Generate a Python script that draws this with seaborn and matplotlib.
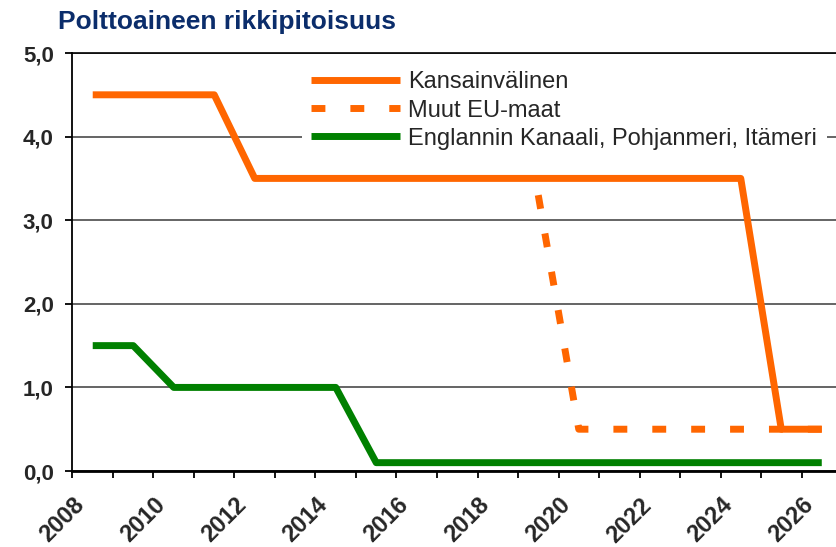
import numpy as np
import pandas as pd
import matplotlib.pyplot as plt
import seaborn as sns
from matplotlib.ticker import MultipleLocator, FuncFormatter
from matplotlib.transforms import ScaledTranslation

# data (one value per year, drawn at mid-year)
years = [2008, 2009, 2010, 2011, 2012, 2013, 2014, 2015, 2016, 2017,
         2018, 2019, 2020, 2021, 2022, 2023, 2024, 2025, 2026]
kansainvalinen = [4.5, 4.5, 4.5, 4.5, 3.5, 3.5, 3.5, 3.5, 3.5, 3.5,
                  3.5, 3.5, 3.5, 3.5, 3.5, 3.5, 3.5, 0.5, 0.5]
muut_eu = [np.nan, np.nan, np.nan, np.nan, np.nan, np.nan, np.nan, np.nan, np.nan, np.nan,
           np.nan, 3.3, 0.5, 0.5, 0.5, 0.5, 0.5, 0.5, 0.5]
kanaali = [1.5, 1.5, 1.0, 1.0, 1.0, 1.0, 1.0, 0.1, 0.1, 0.1,
           0.1, 0.1, 0.1, 0.1, 0.1, 0.1, 0.1, 0.1, 0.1]
xtick_years = [2008, 2010, 2012, 2014, 2016, 2018, 2020, 2022, 2024, 2026]

df = pd.DataFrame({"vuosi": np.array(years) + 0.5,
                   "Kansainvälinen": kansainvalinen,
                   "Muut EU-maat": muut_eu,
                   "Kanaali": kanaali})

sns.set_style("white")
plt.rcParams['font.family'] = ['Liberation Sans', 'DejaVu Sans']

fig = plt.figure(figsize=(8.36, 5.47), dpi=100)
ax = fig.add_axes([0.0867, 0.1389, 0.9205, 0.7642])

sns.lineplot(data=df, x="vuosi", y="Kansainvälinen", color="#FF6600", lw=5,
             solid_capstyle="butt", label="Kansainvälinen", ax=ax)
sns.lineplot(data=df.dropna(subset=["Muut EU-maat"]), x="vuosi", y="Muut EU-maat",
             color="#FF6600", lw=5, linestyle=(0, (2, 3.6)), dash_capstyle="butt",
             label="Muut EU-maat", ax=ax)
sns.lineplot(data=df, x="vuosi", y="Kanaali", color="#008000", lw=5,
             solid_capstyle="butt", label="Englannin Kanaali, Pohjanmeri, Itämeri", ax=ax)

ax.set_xlim(2008, 2027)
ax.set_ylim(0, 5)
ax.set_xlabel("")
ax.set_ylabel("")

ax.yaxis.grid(True, color="#4a4a4a", lw=1.2)
ax.set_axisbelow(True)
ax.spines["right"].set_visible(False)
ax.spines["top"].set_color("black")
ax.spines["top"].set_linewidth(1.2)
ax.spines["left"].set_color("black")
ax.spines["left"].set_linewidth(1.3)
ax.spines["bottom"].set_color("black")
ax.spines["bottom"].set_linewidth(2)

ax.set_xticks(xtick_years)
ax.xaxis.set_minor_locator(MultipleLocator(1))
ax.set_yticks([0, 1, 2, 3, 4, 5])
ax.yaxis.set_major_formatter(FuncFormatter(lambda v, p: f"{v:.1f}".replace(".", ",")))
ax.tick_params(axis="x", which="both", direction="out", length=5, width=1.3,
               color="black", bottom=True, pad=17)
ax.tick_params(axis="y", direction="out", length=5, width=1.3, color="black", left=True, pad=8.5)
shift = ScaledTranslation(8 / 100, 0, fig.dpi_scale_trans)
for lbl in ax.get_xticklabels():
    lbl.set_rotation(45)
    lbl.set_ha("right")
    lbl.set_va("center")
    lbl.set_rotation_mode("anchor")
    lbl.set_fontsize(17)
    lbl.set_fontweight("bold")
    lbl.set_transform(lbl.get_transform() + shift)
for lbl in ax.get_yticklabels():
    lbl.set_fontsize(16)
    lbl.set_fontweight("bold")

leg = ax.legend(loc="upper left", bbox_to_anchor=(302 / 836, 1 - 62 / 547),
                bbox_transform=fig.transFigure, fontsize=17, frameon=True,
                fancybox=False, framealpha=1, facecolor="white", edgecolor="none",
                borderpad=0.4, handlelength=3.73, handletextpad=0.38,
                labelspacing=0.26, borderaxespad=0)

fig.text(58 / 836, 1 - 29 / 547, "Polttoaineen rikkipitoisuus", fontsize=19,
         fontweight="bold", color="#0B2D6B", va="baseline")

plt.savefig("out.png", dpi=100)
